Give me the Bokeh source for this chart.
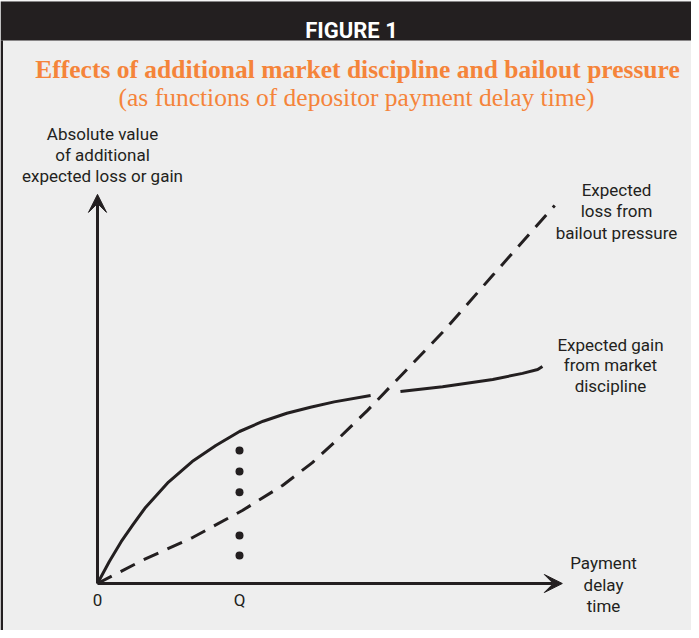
from bokeh.plotting import figure
from bokeh.models import Range1d, Arrow, VeeHead
from bokeh.core.properties import value
from bokeh.embed import file_html
from bokeh.resources import INLINE

# ---- data (abstract units: x = payment delay time, y = |expected loss or gain|) ----
gain_x_a = [0.0, 0.25, 0.5, 0.75, 1.0, 1.5, 2.0, 2.5, 3.0, 3.5, 4.0, 4.5, 5.0, 5.77]
gain_y_a = [0.0, 0.58, 1.10, 1.55, 1.98, 2.67, 3.21, 3.63, 4.00, 4.27, 4.48, 4.64, 4.78, 4.95]
gain_x_b = [6.40, 7.29, 8.35, 8.98, 9.30, 9.40]
gain_y_b = [5.05, 5.18, 5.37, 5.53, 5.63, 5.71]

loss_x = [0.0, 0.95, 2.01, 3.06, 3.91, 4.54, 5.07, 5.70, 7.29, 8.35, 9.66]
loss_y = [0.0, 0.61, 1.21, 1.92, 2.58, 3.18, 3.79, 4.55, 6.61, 8.11, 9.95]

q_value = 3.0
q_dots_y = [3.50, 2.95, 2.40, 1.26, 0.74]

x_axis_end = 9.82
y_axis_end = 10.24

tick_labels = ["0", "Q"]
tick_pos = [0.0, q_value]

y_label = ["Absolute value", "of additional", "expected loss or gain"]
loss_label = ["Expected", "loss from", "bailout pressure"]
gain_label = ["Expected gain", "from market", "discipline"]
x_label = ["Payment", "delay", "time"]

header = "FIGURE 1"
title = "Effects of additional market discipline and bailout pressure"
subtitle = "(as functions of depositor payment delay time)"

# ---- layout ----
W, H = 691, 630
OX, OY = 105, 591          # page position of the origin
SX, SY = 142 / 3.0, 38.0   # pixels per unit
def fx(px):
    return (px - OX) / SX
def fy(py):
    return (OY - py) / SY

X0, X1 = fx(8), fx(8 + W)
Y1, Y0 = fy(8), fy(8 + H)

INK = "#231f20"
ORANGE = "#f5843a"
BG = "#eeeeee"

p = figure(width=W, height=H, x_range=Range1d(X0, X1), y_range=Range1d(Y0, Y1),
           output_backend="svg", toolbar_location=None, min_border=0,
           x_axis_type=None, y_axis_type=None)
p.background_fill_color = BG
p.border_fill_color = BG
p.outline_line_color = None
p.grid.visible = False

# header bar and left frame
p.quad(left=X0, right=X1, top=fy(9), bottom=fy(48), fill_color=INK, line_color=None)
p.quad(left=[X0], right=[fx(10.5)], top=[fy(48)], bottom=[Y0], fill_color=INK, line_color=None)

# curves
p.line(gain_x_a, gain_y_a, line_color=INK, line_width=3, line_join="round")
p.line(gain_x_b, gain_y_b, line_color=INK, line_width=3, line_join="round")
p.line(loss_x, loss_y, line_color=INK, line_width=3, line_dash="16 10")
p.scatter([q_value] * len(q_dots_y), q_dots_y, size=8, fill_color=INK, line_color=None)

# axes with arrows
for xe, ye in [(0, y_axis_end), (x_axis_end, 0)]:
    p.add_layout(Arrow(end=VeeHead(size=18, fill_color=INK, line_color=INK, line_width=1),
                       x_start=0, y_start=0, x_end=xe, y_end=ye,
                       line_color=INK, line_width=3))

sans = value("Roboto")
def txt(xs, ys, texts, size="17px", font=sans, color=INK, style="normal", baseline="middle"):
    p.text(x=xs, y=ys, text=texts, text_align="center", text_baseline=baseline,
           text_font=font, text_font_size=size, text_color=color, text_font_style=style)

txt(tick_pos, [fy(607)] * 2, tick_labels)
txt([fx(110)] * 3, [fy(141), fy(162), fy(183)], y_label)
txt([fx(624)] * 3, [fy(197), fy(218), fy(240)], loss_label)
txt([fx(618)] * 3, [fy(352), fy(372), fy(393)], gain_label)
txt([fx(611)] * 3, [fy(570), fy(592), fy(613)], x_label)

txt([fx(359)], [fy(38)], [header], size="22px", color="white", style="bold", baseline="alphabetic")
serif = value("Liberation Serif")
txt([fx(365)], [fy(77)], [title], size="25.5px", font=serif, color=ORANGE, style="bold", baseline="alphabetic")
txt([fx(364)], [fy(105)], [subtitle], size="25.5px", font=serif, color=ORANGE, baseline="alphabetic")

open("out.html", "w").write(file_html(p, INLINE))
